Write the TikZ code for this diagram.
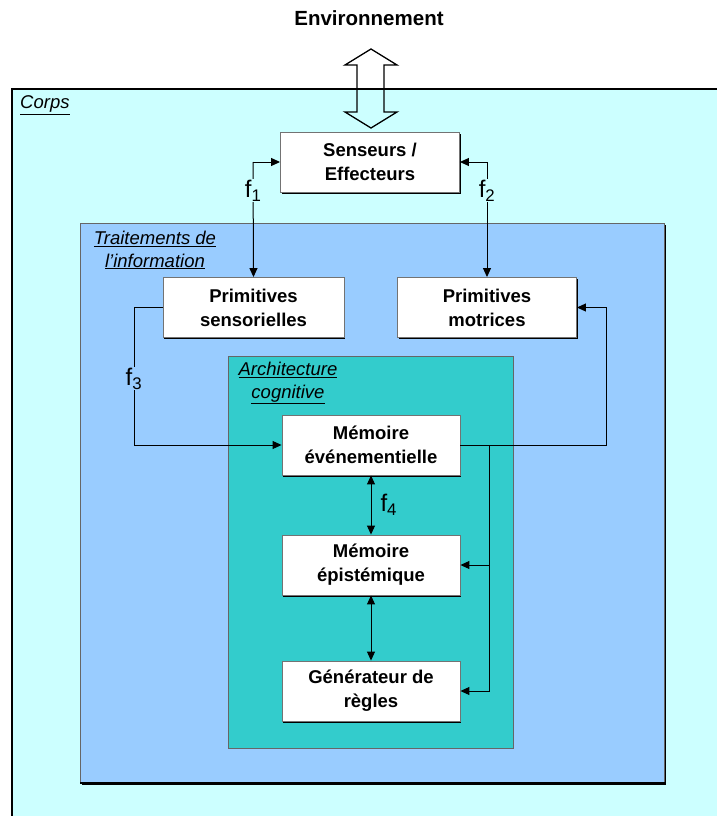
\documentclass[tikz,border=0pt]{standalone}
\usepackage{fontspec}
\setmainfont{Liberation Sans}
\usetikzlibrary{arrows.meta,shadows}
\definecolor{corpsc}{HTML}{CCFFFF}
\definecolor{traitc}{HTML}{99CCFF}
\definecolor{archc}{HTML}{33CCCC}
\begin{document}
\begin{tikzpicture}[x=1pt,y=-1pt,
  box/.style={draw=black!55, line width=0.9pt, fill=white, minimum width=179pt, minimum height=60pt,
    align=center, inner sep=0pt, font=\fontsize{18.5}{24}\selectfont\bfseries,
    drop shadow={shadow xshift=1.2pt, shadow yshift=-1.5pt, fill=black, opacity=1}},
  zone/.style={font=\fontsize{18.5}{23}\selectfont\itshape, align=center, inner sep=0pt},
  flab/.style={font=\fontsize{24}{26}\selectfont, inner sep=1pt},
  conn/.style={line width=1pt, -{Triangle[length=9pt,width=8pt]}},
  dconn/.style={line width=1pt, {Triangle[length=9pt,width=8pt]}-{Triangle[length=9pt,width=8pt]}},
  plain/.style={line width=1pt}]
\useasboundingbox (0,0) rectangle (717,816);
\clip (0,0) rectangle (717,816);
% containers
\fill[white] (0,0) rectangle (717,816);
\filldraw[fill=corpsc, draw=black, line width=1.2pt] (12,89) rectangle (740,840);
\fill[black] (82,225) rectangle (666,785);
\filldraw[fill=traitc, draw=black!60, line width=0.9pt] (80,223) rectangle (664,783);
\draw[black, line width=2pt] (80,783) -- (665,783);
\filldraw[fill=archc, draw=black!60, line width=0.9pt] (228,356) rectangle (513,748);
% titles
\node[font=\fontsize{20.5}{24}\selectfont\bfseries] (env) at (369,18) {Environnement};
\node[zone, anchor=west] (corps) at (20,105) {\underline{Corps}};
\node[zone] (trait) at (155,250) {\underline{Traitements de}\\\underline{l'information}};
\node[zone] (arch) at (288,383) {\underline{Architecture}\\\underline{cognitive}};
% environment double arrow
\draw[line width=1.3pt, line join=miter] (371,49) -- (397,65) -- (384,65) -- (384,112) -- (397,112) -- (371,128)
  -- (345,112) -- (357,112) -- (357,65) -- (345,65) -- cycle;
% boxes
\node[box] (sens) at (370,162) {Senseurs /\\Effecteurs};
\node[box, minimum width=181pt] (ps) at (253.5,307.5) {Primitives\\sensorielles};
\node[box] (pm) at (487,307.5) {Primitives\\motrices};
\node[box, minimum width=178pt] (me) at (371,445) {M\'emoire\\\'ev\'enementielle};
\node[box, minimum width=178pt] (mep) at (371,565) {M\'emoire\\\'epist\'emique};
\node[box, minimum width=178pt] (gen) at (371,691) {G\'en\'erateur de\\r\`egles};
% f1
\coordinate (c1) at (253,162);
\draw[conn] (c1) -- (sens.west |- c1);
\draw[conn] (c1) -- node[flab, pos=0.25, fill=corpsc] {f\textsubscript{1}} (ps.north);
% f2
\coordinate (c2) at (487,162);
\draw[conn] (c2) -- (sens.east |- c2);
\draw[conn] (c2) -- node[flab, pos=0.25, fill=corpsc] {f\textsubscript{2}} (pm.north);
% f3
\coordinate (c3) at (134,307);
\coordinate (c4) at (134,445);
\draw[plain] (ps.west |- c3) -- (c3) -- node[flab, pos=0.52, fill=traitc] {f\textsubscript{3}} (c4);
\draw[conn] (c4) -- (me.west);
% back to primitives motrices
\coordinate (c5) at (606,445);
\draw[conn] (me.east) -- (c5) |- (pm.east);
% branch
\coordinate (b1) at (489,445);
\draw[conn] (b1) |- (gen.east);
\draw[conn] (b1 |- mep.east) -- (mep.east);
% vertical double arrows
\draw[dconn] (me.south) -- node[flab, right, xshift=8pt] {f\textsubscript{4}} (mep.north);
\draw[dconn] (mep.south) -- (gen.north);
\end{tikzpicture}
\end{document}
